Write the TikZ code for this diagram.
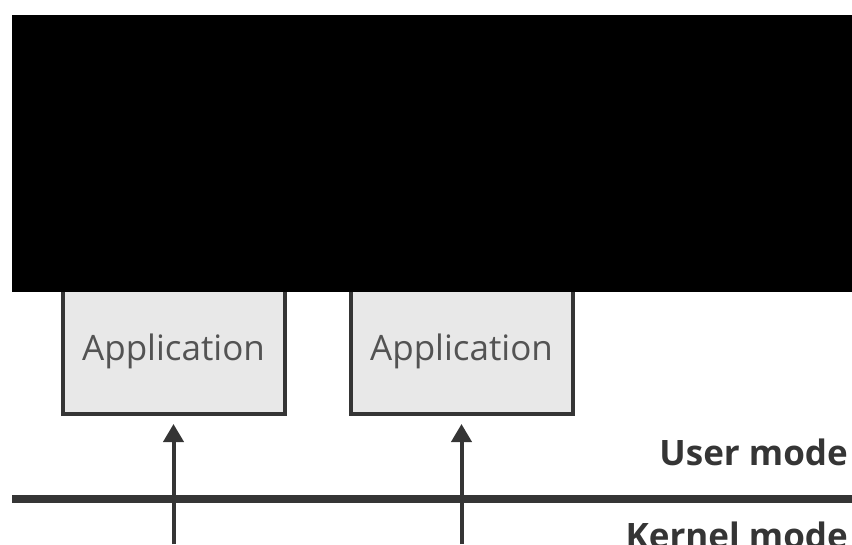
\documentclass[tikz,border=0pt]{standalone}
\usepackage{fontspec}
\setmainfont{Open Sans}
\usetikzlibrary{arrows.meta}
\definecolor{ink}{HTML}{353535}
\definecolor{boxfill}{HTML}{E8E8E8}
\begin{document}
\begin{tikzpicture}[x=1pt,y=-1pt,
  appbox/.style={draw=ink,fill=boxfill,line width=4pt,minimum width=222pt,minimum height=126pt,inner sep=0pt,
    font=\fontsize{35}{40}\selectfont,text=ink!85},
  modelabel/.style={font=\fontsize{35}{40}\selectfont\bfseries,text=ink,inner sep=0pt},
  uparrow/.style={draw=ink,line width=4pt,-{Triangle[width=20pt,length=18pt]},shorten >=8pt}]
\useasboundingbox (0,0) rectangle (852,544);
\clip (0,0) rectangle (852,544);
\node[appbox,anchor=south] (app1) at (173.5,416) {Application};
\node[appbox,anchor=south] (app2) at (461.5,416) {Application};
\fill[black] (12,15) rectangle (852,292);
\coordinate (left) at (12,499);
\coordinate (right) at (852,499);
\draw[ink,line width=8pt] (left) -- (right);
\coordinate (k1) at (173.5,544);
\coordinate (k2) at (461.5,544);
\draw[uparrow] (k1) -- (app1.south);
\draw[uparrow] (k2) -- (app2.south);
\node[modelabel,anchor=base east] (user) at (848,465) {User mode};
\node[modelabel,anchor=base east] (kernel) at (848,548) {Kernel mode};
\end{tikzpicture}
\end{document}
